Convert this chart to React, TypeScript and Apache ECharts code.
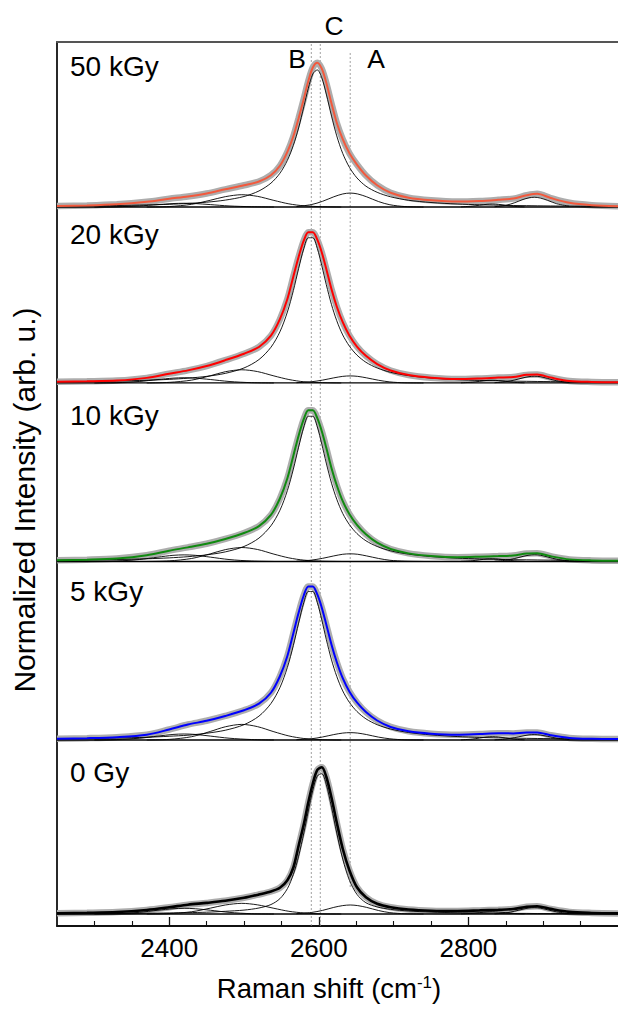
import React, { useEffect, useRef } from "react";
import * as echarts from "echarts";

// Raman shift grid (cm-1) shared by fits and main components
const RAMAN_SHIFT = [2250, 2290, 2330, 2370, 2400, 2425, 2450, 2475, 2500, 2520, 2536, 2548, 2558, 2566, 2573, 2580, 2586, 2592, 2598, 2604, 2610, 2617, 2624, 2632, 2641, 2651, 2663, 2678, 2696, 2720, 2750, 2785, 2815, 2840, 2860, 2878, 2892, 2910, 2935, 2965, 3000];

// Envelope (measured data / fit) per dose
const FIT_50 = [0.006, 0.010, 0.018, 0.035, 0.055, 0.070, 0.090, 0.118, 0.145, 0.170, 0.212, 0.275, 0.368, 0.472, 0.592, 0.722, 0.840, 0.930, 0.962, 0.922, 0.828, 0.690, 0.562, 0.452, 0.358, 0.283, 0.210, 0.145, 0.095, 0.062, 0.045, 0.036, 0.040, 0.048, 0.056, 0.078, 0.088, 0.060, 0.028, 0.012, 0.005];
const FIT_20 = [0.008, 0.011, 0.016, 0.034, 0.062, 0.084, 0.113, 0.152, 0.195, 0.240, 0.315, 0.425, 0.560, 0.710, 0.840, 0.950, 1.005, 1.005, 0.955, 0.870, 0.760, 0.625, 0.510, 0.405, 0.315, 0.243, 0.181, 0.126, 0.083, 0.053, 0.035, 0.026, 0.030, 0.036, 0.040, 0.054, 0.056, 0.036, 0.013, 0.007, 0.005];
const FIT_10 = [0.008, 0.012, 0.020, 0.042, 0.072, 0.094, 0.118, 0.150, 0.190, 0.236, 0.310, 0.420, 0.555, 0.705, 0.838, 0.950, 1.008, 1.008, 0.955, 0.868, 0.758, 0.622, 0.508, 0.402, 0.315, 0.244, 0.181, 0.125, 0.083, 0.054, 0.037, 0.029, 0.032, 0.036, 0.040, 0.053, 0.055, 0.035, 0.014, 0.007, 0.005];
const FIT_5 = [0.008, 0.012, 0.019, 0.035, 0.070, 0.103, 0.128, 0.160, 0.198, 0.242, 0.315, 0.425, 0.560, 0.712, 0.848, 0.965, 1.024, 1.024, 0.970, 0.882, 0.770, 0.635, 0.520, 0.412, 0.322, 0.250, 0.186, 0.130, 0.087, 0.058, 0.042, 0.035, 0.040, 0.045, 0.044, 0.050, 0.050, 0.032, 0.014, 0.008, 0.006];
const FIT_0 = [0.005, 0.008, 0.013, 0.027, 0.045, 0.062, 0.074, 0.088, 0.108, 0.130, 0.150, 0.175, 0.225, 0.310, 0.455, 0.600, 0.745, 0.870, 0.960, 0.978, 0.915, 0.775, 0.610, 0.435, 0.290, 0.178, 0.112, 0.068, 0.045, 0.030, 0.022, 0.020, 0.024, 0.028, 0.033, 0.048, 0.052, 0.034, 0.014, 0.007, 0.004];

// Main 2D-band component per dose
const MAIN_50 = [0.006, 0.008, 0.010, 0.014, 0.018, 0.024, 0.032, 0.046, 0.070, 0.107, 0.159, 0.225, 0.311, 0.411, 0.527, 0.669, 0.792, 0.887, 0.914, 0.861, 0.753, 0.606, 0.474, 0.357, 0.264, 0.194, 0.139, 0.098, 0.068, 0.045, 0.030, 0.020, 0.015, 0.012, 0.010, 0.009, 0.008, 0.007, 0.006, 0.005, 0.004];
const MAIN_20 = [0.008, 0.010, 0.013, 0.018, 0.024, 0.032, 0.044, 0.064, 0.100, 0.156, 0.238, 0.341, 0.473, 0.616, 0.762, 0.897, 0.968, 0.968, 0.897, 0.782, 0.656, 0.522, 0.415, 0.320, 0.245, 0.186, 0.138, 0.100, 0.071, 0.049, 0.033, 0.022, 0.017, 0.014, 0.012, 0.011, 0.010, 0.009, 0.007, 0.006, 0.005];
const MAIN_10 = [0.008, 0.010, 0.013, 0.018, 0.024, 0.032, 0.044, 0.064, 0.100, 0.156, 0.238, 0.341, 0.473, 0.616, 0.762, 0.897, 0.968, 0.968, 0.897, 0.782, 0.656, 0.522, 0.415, 0.320, 0.245, 0.186, 0.138, 0.100, 0.071, 0.049, 0.033, 0.022, 0.017, 0.014, 0.012, 0.011, 0.010, 0.009, 0.007, 0.006, 0.005];
const MAIN_5 = [0.008, 0.010, 0.013, 0.018, 0.025, 0.032, 0.045, 0.065, 0.102, 0.159, 0.243, 0.349, 0.484, 0.630, 0.779, 0.917, 0.990, 0.990, 0.917, 0.800, 0.671, 0.534, 0.424, 0.327, 0.250, 0.190, 0.141, 0.102, 0.073, 0.050, 0.034, 0.023, 0.017, 0.014, 0.012, 0.011, 0.010, 0.009, 0.008, 0.006, 0.005];
const MAIN_0 = [0.002, 0.003, 0.004, 0.005, 0.007, 0.009, 0.012, 0.018, 0.026, 0.040, 0.063, 0.102, 0.169, 0.264, 0.385, 0.540, 0.687, 0.825, 0.920, 0.935, 0.864, 0.712, 0.540, 0.366, 0.224, 0.131, 0.075, 0.047, 0.031, 0.020, 0.013, 0.008, 0.006, 0.005, 0.004, 0.004, 0.003, 0.003, 0.003, 0.002, 0.002];

// Broad component near 2497 cm-1
const BUMP_SHIFT = [2370, 2400, 2430, 2455, 2475, 2497, 2518, 2540, 2560, 2580, 2605, 2630];
const BUMP_50 = [0.000, 0.003, 0.018, 0.045, 0.069, 0.082, 0.071, 0.044, 0.021, 0.008, 0.002, 0.000];
const BUMP_20 = [0.000, 0.004, 0.019, 0.048, 0.075, 0.088, 0.076, 0.047, 0.023, 0.008, 0.002, 0.000];
const BUMP_10 = [0.000, 0.004, 0.020, 0.051, 0.079, 0.093, 0.080, 0.049, 0.024, 0.009, 0.002, 0.000];
const BUMP_5 = [0.000, 0.004, 0.022, 0.057, 0.088, 0.104, 0.089, 0.055, 0.027, 0.010, 0.002, 0.000];
const BUMP_0 = [0.000, 0.003, 0.015, 0.039, 0.060, 0.071, 0.061, 0.038, 0.018, 0.007, 0.001, 0.000];

// Shoulder component near 2420 cm-1
const SHOULDER_SHIFT = [2300, 2330, 2360, 2385, 2405, 2420, 2435, 2455, 2480, 2510, 2540];
const SHOULDER_50 = [0.000, 0.002, 0.007, 0.016, 0.023, 0.025, 0.023, 0.016, 0.007, 0.002, 0.000];
const SHOULDER_20 = [0.000, 0.002, 0.010, 0.023, 0.032, 0.035, 0.032, 0.023, 0.010, 0.002, 0.000];
const SHOULDER_10 = [0.000, 0.003, 0.013, 0.029, 0.041, 0.044, 0.041, 0.029, 0.013, 0.003, 0.000];
const SHOULDER_5 = [0.000, 0.003, 0.012, 0.026, 0.037, 0.040, 0.037, 0.026, 0.012, 0.003, 0.000];
const SHOULDER_0 = [0.000, 0.002, 0.011, 0.025, 0.035, 0.038, 0.035, 0.025, 0.011, 0.002, 0.000];

// Component A near 2642 cm-1
const A_SHIFT = [2570, 2590, 2605, 2620, 2632, 2642, 2652, 2664, 2680, 2695, 2715, 2740];
const A_50 = [0.003, 0.016, 0.038, 0.068, 0.087, 0.093, 0.087, 0.068, 0.036, 0.015, 0.003, 0.000];
const A_20 = [0.002, 0.008, 0.019, 0.034, 0.044, 0.047, 0.044, 0.034, 0.018, 0.007, 0.001, 0.000];
const A_10 = [0.002, 0.009, 0.021, 0.037, 0.048, 0.051, 0.048, 0.037, 0.020, 0.008, 0.002, 0.000];
const A_5 = [0.002, 0.008, 0.020, 0.036, 0.046, 0.049, 0.046, 0.036, 0.019, 0.008, 0.001, 0.000];
const A_0 = [0.002, 0.010, 0.024, 0.044, 0.056, 0.060, 0.056, 0.044, 0.023, 0.009, 0.002, 0.000];

// Weak components near 2832 and 2888 cm-1
const H1_SHIFT = [2790, 2805, 2815, 2825, 2832, 2840, 2850, 2862, 2875];
const H1_50 = [0.001, 0.006, 0.012, 0.018, 0.020, 0.018, 0.011, 0.004, 0.001];
const H1_20 = [0.001, 0.005, 0.011, 0.017, 0.018, 0.016, 0.010, 0.004, 0.001];
const H1_10 = [0.001, 0.005, 0.011, 0.017, 0.018, 0.016, 0.010, 0.004, 0.001];
const H1_5 = [0.001, 0.006, 0.013, 0.020, 0.022, 0.020, 0.013, 0.005, 0.001];
const H1_0 = [0.001, 0.004, 0.009, 0.014, 0.015, 0.013, 0.009, 0.003, 0.001];

const H2_SHIFT = [2835, 2850, 2862, 2873, 2881, 2888, 2896, 2906, 2918, 2935];
const H2_50 = [0.002, 0.011, 0.029, 0.050, 0.061, 0.065, 0.060, 0.044, 0.022, 0.005];
const H2_20 = [0.002, 0.008, 0.020, 0.034, 0.042, 0.045, 0.042, 0.030, 0.015, 0.003];
const H2_10 = [0.002, 0.008, 0.020, 0.034, 0.042, 0.045, 0.042, 0.030, 0.015, 0.003];
const H2_5 = [0.001, 0.006, 0.016, 0.027, 0.034, 0.036, 0.033, 0.024, 0.012, 0.003];
const H2_0 = [0.001, 0.007, 0.019, 0.032, 0.040, 0.042, 0.039, 0.028, 0.014, 0.003];

const DOSE_LABELS = ["50 kGy", "20 kGy", "10 kGy", "5 kGy", "0 Gy"];

// Axis and marker values
const X_MIN = 2250;
const X_MAX = 3000;
const X_MAJOR_TICKS = [2400, 2600, 2800];
const X_MINOR_TICKS = [2300, 2350, 2450, 2500, 2550, 2650, 2700, 2750, 2850, 2900, 2950];
const PEAK_NAMES = ["B", "C", "A"];
const PEAK_POSITIONS = [2590, 2602, 2642];

// ---- layout / style (not data) ----
const Y_MIN = -0.08;
const Y_MAX = 5.813;
const PANEL_OFFSETS = [4.713, 3.54, 2.35, 1.16, 0];
const FIT_COLORS = ["#f2593d", "#ff0000", "#108a10", "#0000ff", "#000000"];
const FIT_WIDTHS = [2, 2, 2, 2, 2.6];
const LABEL_Y = [66, 234, 415, 591, 772];
const PEAK_LABEL_POS = [[297, 59], [334, 26], [376, 59]];
const FONT = "'Liberation Sans', Arial, Helvetica, sans-serif";

const PANELS = [
  { fit: FIT_50, main: MAIN_50, bump: BUMP_50, sh: SHOULDER_50, a: A_50, h1: H1_50, h2: H2_50 },
  { fit: FIT_20, main: MAIN_20, bump: BUMP_20, sh: SHOULDER_20, a: A_20, h1: H1_20, h2: H2_20 },
  { fit: FIT_10, main: MAIN_10, bump: BUMP_10, sh: SHOULDER_10, a: A_10, h1: H1_10, h2: H2_10 },
  { fit: FIT_5, main: MAIN_5, bump: BUMP_5, sh: SHOULDER_5, a: A_5, h1: H1_5, h2: H2_5 },
  { fit: FIT_0, main: MAIN_0, bump: BUMP_0, sh: SHOULDER_0, a: A_0, h1: H1_0, h2: H2_0 },
];

function pairs(xs: number[], ys: number[], off: number) {
  return xs.map((x, i) => [x, ys[i] + off]);
}

function line(data: number[][], color: string, width: number, z: number, extra: any = {}) {
  return {
    type: "line",
    data,
    xAxisIndex: 0,
    yAxisIndex: 0,
    symbol: "none",
    showSymbol: false,
    smooth: 0.3,
    silent: true,
    lineStyle: { color, width },
    z,
    ...extra,
  };
}

export default function App() {
  const ref = useRef<HTMLDivElement>(null);

  useEffect(() => {
    if (!ref.current) return;
    const chart = echarts.init(ref.current, null, { renderer: "svg" });

    const series: any[] = [];

    // dotted peak marker lines
    PEAK_POSITIONS.forEach((p, i) => {
      const isA = PEAK_NAMES[i] === "A";
      series.push({
        type: "line",
        data: [[p, isA ? 0.18 : Y_MIN], [p, isA ? 5.747 : Y_MAX]],
        symbol: "none",
        silent: true,
        lineStyle: { color: "#8a8a8a", width: 0.8, type: [2, 2] },
        z: 1,
      });
    });

    PANELS.forEach((p, i) => {
      const off = PANEL_OFFSETS[i];
      series.push(line(pairs(RAMAN_SHIFT, p.fit, off), "#adadad", 6.5, 2));
      series.push(line([[X_MIN, off], [X_MAX, off]], "#000", 1.3, 3, { smooth: false }));
      series.push(line(pairs(RAMAN_SHIFT, p.main, off), "#000", 0.9, 4));
      series.push(line(pairs(BUMP_SHIFT, p.bump, off), "#000", 0.9, 4));
      series.push(line(pairs(SHOULDER_SHIFT, p.sh, off), "#000", 0.9, 4));
      series.push(line(pairs(A_SHIFT, p.a, off), "#000", 0.9, 4));
      series.push(line(pairs(H1_SHIFT, p.h1, off), "#000", 0.9, 4));
      series.push(line(pairs(H2_SHIFT, p.h2, off), "#000", 0.9, 4));
      series.push(line(pairs(RAMAN_SHIFT, p.fit, off), FIT_COLORS[i], FIT_WIDTHS[i], 5));
    });

    const textStyle = (text: string, size: number, extra: any = {}) => ({
      text,
      fill: "#000",
      fontSize: size,
      fontFamily: FONT,
      font: `${size}px ${FONT}`,
      ...extra,
    });
    const centered = { align: "center", textAlign: "center", verticalAlign: "middle", textVerticalAlign: "middle" };

    const graphic: any[] = [];
    DOSE_LABELS.forEach((label, i) => {
      graphic.push({
        type: "text",
        x: 70,
        y: LABEL_Y[i],
        silent: true,
        style: textStyle(label, 28, { align: "left", textAlign: "left", verticalAlign: "middle", textVerticalAlign: "middle" }),
      });
    });
    PEAK_NAMES.forEach((name, i) => {
      graphic.push({
        type: "text",
        x: PEAK_LABEL_POS[i][0],
        y: PEAK_LABEL_POS[i][1],
        silent: true,
        style: textStyle(name, 26.5, centered),
      });
    });
    graphic.push({
      type: "text",
      x: 329,
      y: 988,
      silent: true,
      style: textStyle("Raman shift (cm{sup|-1})", 27.5, {
        ...centered,
        rich: {
          sup: { fontSize: 17, fontFamily: FONT, verticalAlign: "top", fill: "#000", padding: [0, 0, 12, 0] },
        },
      }),
    });
    graphic.push({
      type: "text",
      x: 24,
      y: 500,
      rotation: Math.PI / 2,
      silent: true,
      style: textStyle("Normalized Intensity (arb. u.)", 30, centered),
    });

    const option: any = {
      animation: false,
      backgroundColor: "#ffffff",
      grid: { left: 57, top: 42, width: 576, height: 884, containLabel: false },
      xAxis: [
        {
          type: "value",
          min: X_MIN,
          max: X_MAX,
          position: "bottom",
          axisLine: { show: true, onZero: false, lineStyle: { color: "#111", width: 1.8 } },
          axisTick: { show: true, inside: true, length: 9, customValues: X_MAJOR_TICKS, lineStyle: { color: "#111", width: 1.3 } },
          axisLabel: {
            show: true,
            customValues: X_MAJOR_TICKS,
            margin: 9,
            fontSize: 26,
            fontFamily: FONT,
            color: "#000",
            formatter: (v: number) => String(v),
          },
          splitLine: { show: false },
        },
        {
          type: "value",
          min: X_MIN,
          max: X_MAX,
          position: "bottom",
          axisLine: { show: false, onZero: false },
          axisTick: { show: true, inside: true, length: 5, customValues: X_MINOR_TICKS, lineStyle: { color: "#111", width: 1.1 } },
          axisLabel: { show: false },
          splitLine: { show: false },
        },
        {
          type: "value",
          min: X_MIN,
          max: X_MAX,
          position: "top",
          axisLine: { show: true, onZero: false, lineStyle: { color: "#555", width: 2 } },
          axisTick: { show: false },
          axisLabel: { show: false },
          splitLine: { show: false },
        },
      ],
      yAxis: {
        type: "value",
        min: Y_MIN,
        max: Y_MAX,
        axisLine: { show: true, onZero: false, lineStyle: { color: "#111", width: 1.8 } },
        axisTick: { show: false },
        axisLabel: { show: false },
        splitLine: { show: false },
      },
      series,
      graphic,
    };

    chart.setOption(option);
    return () => chart.dispose();
  }, []);

  return (
    <div
      ref={ref}
      style={{ position: "absolute", left: 0, top: 0, width: 618, height: 1009, overflow: "hidden", background: "#fff" }}
    />
  );
}
